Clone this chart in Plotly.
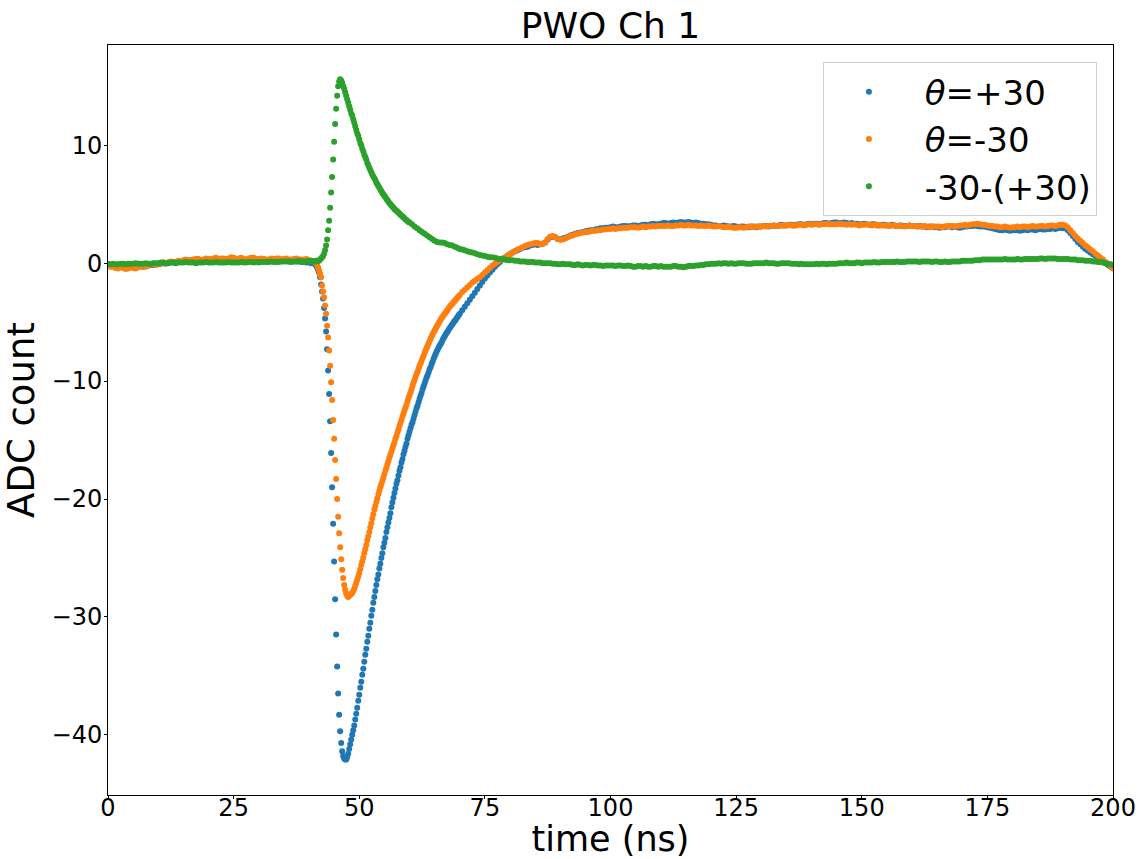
import numpy as np
import plotly.graph_objects as go

# Digitised waveforms, ADC counts vs time (ns).
# Each series is stored in segments: (start time, sample step, values).

# ---- theta = +30 ----
BLUE_BASE = [  # 0 .. 41 ns, 0.5 ns
    -0.15, -0.2, -0.25, -0.3, -0.35, -0.3, -0.35, -0.4, -0.4, -0.3,
    -0.35, -0.35, -0.3, -0.25, -0.3, -0.2, -0.2, -0.15, -0.15, -0.1,
    -0.1, -0.05, 0.0, 0.0, 0.05, 0.1, 0.05, 0.1, 0.15, 0.15,
    0.2, 0.2, 0.2, 0.25, 0.25, 0.3, 0.3, 0.25, 0.25, 0.3,
    0.3, 0.3, 0.35, 0.35, 0.3, 0.3, 0.35, 0.35, 0.35, 0.4,
    0.4, 0.35, 0.35, 0.3, 0.3, 0.25, 0.3, 0.35, 0.35, 0.3,
    0.3, 0.3, 0.25, 0.25, 0.2, 0.25, 0.25, 0.3, 0.3, 0.25,
    0.2, 0.2, 0.15, 0.2, 0.2, 0.15, 0.15, 0.1, 0.1, 0.05,
    0.05, 0.0, 0.0]
BLUE_EDGE = [  # 41.2 .. 48.0 ns, 0.2 ns
    -0.1, -0.2, -0.35, -0.55, -0.8, -1.2, -1.8, -2.4, -3.0, -3.8,
    -4.7, -5.8, -7.3, -9.1, -11.1, -13.4, -16.1, -19.0, -22.1, -25.3,
    -28.5, -31.5, -34.2, -36.5, -38.3, -39.7, -40.7, -41.4, -41.8, -42.0,
    -42.1, -42.1, -41.9, -41.6, -41.2]
BLUE_RISE = [  # 48.2 .. 70.0 ns, 0.2 ns
    -40.8, -40.4, -40.0, -39.6, -39.2, -38.7, -38.2, -37.7, -37.1, -36.6,
    -36.0, -35.5, -34.9, -34.4, -33.8, -33.2, -32.7, -32.1, -31.6, -31.0,
    -30.5, -29.9, -29.4, -28.8, -28.3, -27.8, -27.3, -26.8, -26.4, -25.9,
    -25.5, -25.0, -24.6, -24.1, -23.7, -23.3, -22.8, -22.4, -22.0, -21.6,
    -21.2, -20.7, -20.3, -19.9, -19.5, -19.1, -18.7, -18.4, -18.0, -17.6,
    -17.3, -16.9, -16.6, -16.2, -15.9, -15.6, -15.3, -14.9, -14.6, -14.3,
    -14.0, -13.7, -13.5, -13.2, -12.9, -12.6, -12.3, -12.1, -11.8, -11.5,
    -11.25, -11.0, -10.7, -10.45, -10.2, -9.95, -9.7, -9.5, -9.25, -9.0,
    -8.8, -8.55, -8.35, -8.1, -7.9, -7.7, -7.5, -7.35, -7.15, -7.0,
    -6.85, -6.7, -6.5, -6.35, -6.2, -6.05, -5.9, -5.8, -5.65, -5.5,
    -5.4, -5.25, -5.15, -5.0, -4.9, -4.8, -4.65, -4.55, -4.4, -4.3]
BLUE_TAIL = [  # 70.5 .. 80.0 ns, 0.5 ns
    -4.0, -3.7, -3.4, -3.1, -2.8, -2.5, -2.2, -1.9, -1.6, -1.3,
    -1.05, -0.8, -0.55, -0.3, -0.1, 0.1, 0.3, 0.45, 0.6, 0.75]
BLUE_PLATEAU = [  # 80.5 .. 190 ns, 0.5 ns
    0.9, 1.0, 1.1, 1.2, 1.3, 1.35, 1.4, 1.5, 1.55, 1.6,
    1.55, 1.6, 1.65, 1.75, 2.0, 2.2, 2.25, 2.2, 2.05, 2.0,
    2.1, 2.15, 2.25, 2.35, 2.4, 2.5, 2.55, 2.6, 2.65, 2.7,
    2.75, 2.8, 2.8, 2.85, 2.9, 2.95, 2.95, 3.0, 3.0, 3.05,
    3.1, 3.05, 3.05, 3.1, 3.15, 3.15, 3.1, 3.15, 3.2, 3.2,
    3.15, 3.2, 3.25, 3.25, 3.2, 3.3, 3.35, 3.3, 3.3, 3.35,
    3.4, 3.4, 3.35, 3.4, 3.45, 3.4, 3.45, 3.5, 3.45, 3.45,
    3.5, 3.45, 3.4, 3.45, 3.4, 3.35, 3.35, 3.3, 3.3, 3.25,
    3.2, 3.2, 3.15, 3.15, 3.2, 3.15, 3.1, 3.1, 3.15, 3.1,
    3.05, 3.1, 3.1, 3.05, 3.05, 3.1, 3.1, 3.05, 3.1, 3.1,
    3.15, 3.15, 3.1, 3.15, 3.2, 3.15, 3.2, 3.25, 3.2, 3.2,
    3.25, 3.25, 3.2, 3.25, 3.3, 3.3, 3.25, 3.3, 3.35, 3.3,
    3.35, 3.35, 3.3, 3.35, 3.4, 3.4, 3.35, 3.4, 3.45, 3.45,
    3.4, 3.4, 3.45, 3.4, 3.35, 3.4, 3.35, 3.35, 3.3, 3.3,
    3.35, 3.3, 3.25, 3.3, 3.3, 3.25, 3.2, 3.25, 3.25, 3.2,
    3.2, 3.25, 3.2, 3.15, 3.2, 3.2, 3.15, 3.15, 3.2, 3.15,
    3.15, 3.1, 3.15, 3.1, 3.1, 3.05, 3.1, 3.1, 3.05, 3.05,
    3.0, 3.05, 3.05, 3.1, 3.1, 3.05, 3.1, 3.05, 3.0, 3.05,
    3.1, 3.1, 3.15, 3.15, 3.2, 3.15, 3.1, 3.1, 3.1, 3.05,
    3.0, 2.95, 2.9, 2.85, 2.8, 2.8, 2.85, 2.8, 2.75, 2.8,
    2.8, 2.8, 2.75, 2.8, 2.85, 2.8, 2.85, 2.85, 2.8, 2.85,
    2.9, 2.85, 2.85, 2.9, 2.9, 2.95, 2.9, 2.95, 3.0, 2.95]
BLUE_END = [  # 190.5 .. 200 ns, 0.5 ns
    2.95, 2.8, 2.55, 2.3, 2.05, 1.8, 1.6, 1.4, 1.2, 1.05,
    0.9, 0.75, 0.6, 0.45, 0.3, 0.15, 0.0, -0.15, -0.3, -0.4]

# ---- theta = -30 ----
ORANGE_BASE = [  # 0 .. 41 ns, 0.5 ns
    -0.2, -0.3, -0.3, -0.4, -0.45, -0.35, -0.4, -0.5, -0.45, -0.35,
    -0.4, -0.45, -0.35, -0.3, -0.25, -0.3, -0.2, -0.1, -0.1, -0.15,
    -0.05, 0.0, 0.05, -0.05, 0.05, 0.15, 0.1, 0.1, 0.2, 0.15,
    0.25, 0.3, 0.25, 0.2, 0.3, 0.35, 0.35, 0.25, 0.3, 0.4,
    0.35, 0.3, 0.4, 0.45, 0.35, 0.4, 0.4, 0.35, 0.4, 0.5,
    0.45, 0.35, 0.4, 0.45, 0.35, 0.3, 0.4, 0.45, 0.45, 0.35,
    0.35, 0.4, 0.35, 0.3, 0.3, 0.4, 0.35, 0.4, 0.4, 0.3,
    0.35, 0.4, 0.3, 0.3, 0.35, 0.4, 0.3, 0.3, 0.3, 0.35,
    0.25, 0.2, 0.15]
ORANGE_EDGE = [  # 41.2 .. 48.0 ns, 0.2 ns
    0.1, 0.0, -0.15, -0.35, -0.6, -0.9, -1.2, -1.9, -2.4, -2.9,
    -3.6, -4.3, -5.3, -6.3, -7.4, -8.7, -10.1, -11.6, -13.3, -14.9,
    -16.7, -18.3, -20.0, -21.5, -22.9, -24.1, -25.1, -26.0, -26.7, -27.3,
    -27.7, -28.0, -28.2, -28.3, -28.2]
ORANGE_RISE = [  # 48.2 .. 70.0 ns, 0.2 ns
    -28.15, -28.05, -27.95, -27.8, -27.6, -27.35, -27.1, -26.85, -26.6, -26.3,
    -25.95, -25.6, -25.3, -24.95, -24.6, -24.25, -23.9, -23.5, -23.15, -22.8,
    -22.4, -22.05, -21.65, -21.3, -20.9, -20.6, -20.25, -19.95, -19.6, -19.3,
    -19.0, -18.75, -18.45, -18.2, -17.9, -17.6, -17.35, -17.05, -16.8, -16.5,
    -16.25, -16.0, -15.7, -15.45, -15.2, -14.9, -14.65, -14.35, -14.1, -13.8,
    -13.55, -13.3, -13.0, -12.75, -12.5, -12.25, -12.0, -11.7, -11.45, -11.2,
    -10.95, -10.7, -10.4, -10.15, -9.9, -9.65, -9.4, -9.2, -8.95, -8.7,
    -8.5, -8.3, -8.05, -7.85, -7.6, -7.4, -7.2, -7.0, -6.8, -6.6,
    -6.4, -6.2, -6.05, -5.85, -5.7, -5.55, -5.4, -5.25, -5.1, -4.95,
    -4.8, -4.65, -4.55, -4.4, -4.3, -4.2, -4.05, -3.95, -3.8, -3.7,
    -3.6, -3.5, -3.4, -3.3, -3.2, -3.1, -3.0, -2.9, -2.8, -2.7]
ORANGE_TAIL = [  # 70.5 .. 80.0 ns, 0.5 ns
    -2.45, -2.25, -2.05, -1.85, -1.65, -1.5, -1.35, -1.2, -1.0, -0.8,
    -0.6, -0.4, -0.2, -0.05, 0.1, 0.25, 0.4, 0.5, 0.65, 0.75]
ORANGE_PLATEAU = [  # 80.5 .. 190 ns, 0.5 ns
    0.9, 1.0, 1.15, 1.25, 1.35, 1.45, 1.55, 1.6, 1.65, 1.7,
    1.7, 1.6, 1.65, 1.75, 2.05, 2.25, 2.3, 2.2, 2.05, 2.0,
    2.0, 2.1, 2.2, 2.3, 2.35, 2.45, 2.5, 2.55, 2.6, 2.65,
    2.65, 2.7, 2.75, 2.75, 2.8, 2.8, 2.85, 2.85, 2.9, 2.9,
    2.95, 2.9, 2.95, 2.95, 3.0, 3.0, 3.0, 3.05, 3.05, 3.05,
    3.0, 3.05, 3.1, 3.05, 3.1, 3.1, 3.15, 3.1, 3.15, 3.15,
    3.15, 3.15, 3.2, 3.15, 3.15, 3.2, 3.2, 3.25, 3.2, 3.2,
    3.25, 3.2, 3.2, 3.2, 3.15, 3.2, 3.15, 3.15, 3.2, 3.15,
    3.1, 3.1, 3.15, 3.1, 3.05, 3.05, 3.1, 3.05, 3.0, 3.0,
    3.05, 3.05, 3.0, 3.05, 3.1, 3.1, 3.05, 3.1, 3.1, 3.1,
    3.15, 3.1, 3.15, 3.15, 3.2, 3.15, 3.15, 3.2, 3.2, 3.2,
    3.25, 3.2, 3.2, 3.2, 3.25, 3.25, 3.2, 3.25, 3.3, 3.25,
    3.3, 3.3, 3.25, 3.3, 3.3, 3.35, 3.3, 3.3, 3.3, 3.3,
    3.35, 3.3, 3.3, 3.25, 3.3, 3.25, 3.3, 3.25, 3.2, 3.25,
    3.25, 3.3, 3.25, 3.2, 3.25, 3.2, 3.25, 3.2, 3.2, 3.2,
    3.15, 3.2, 3.2, 3.15, 3.15, 3.15, 3.1, 3.15, 3.2, 3.15,
    3.15, 3.15, 3.1, 3.1, 3.15, 3.1, 3.05, 3.1, 3.1, 3.1,
    3.1, 3.05, 3.1, 3.15, 3.15, 3.15, 3.1, 3.15, 3.2, 3.2,
    3.25, 3.2, 3.25, 3.3, 3.3, 3.35, 3.3, 3.25, 3.25, 3.2,
    3.15, 3.15, 3.1, 3.1, 3.05, 3.05, 3.1, 3.05, 3.0, 3.05,
    3.05, 3.1, 3.05, 3.1, 3.1, 3.05, 3.1, 3.15, 3.1, 3.1,
    3.15, 3.15, 3.1, 3.15, 3.2, 3.2, 3.15, 3.2, 3.25, 3.25]
ORANGE_END = [  # 190.5 .. 200 ns, 0.5 ns
    3.2, 3.05, 2.8, 2.55, 2.3, 2.1, 1.9, 1.7, 1.5, 1.35,
    1.15, 1.0, 0.8, 0.65, 0.45, 0.3, 0.1, -0.05, -0.25, -0.45]

# ---- difference -30 - (+30) ----
GREEN_BASE = [  # 0 .. 41 ns, 0.5 ns
    -0.05, -0.1, -0.05, -0.1, -0.1, -0.05, -0.05, -0.1, -0.05, -0.05,
    -0.05, 0.0, -0.05, -0.05, -0.05, 0.0, -0.05, -0.05, 0.0, 0.0,
    0.0, 0.05, 0.05, 0.0, 0.0, 0.05, 0.05, 0.0, 0.05, 0.05,
    0.05, 0.1, 0.05, 0.05, 0.05, 0.0, 0.05, 0.05, 0.05, 0.1,
    0.05, 0.05, 0.05, 0.1, 0.05, 0.05, 0.05, 0.05, 0.1, 0.05,
    0.05, 0.05, 0.05, 0.1, 0.05, 0.05, 0.1, 0.1, 0.05, 0.1,
    0.05, 0.1, 0.1, 0.1, 0.1, 0.15, 0.1, 0.1, 0.1, 0.15,
    0.15, 0.15, 0.15, 0.1, 0.15, 0.15, 0.2, 0.15, 0.15, 0.15,
    0.2, 0.2, 0.15]
GREEN_PEAK = [  # 41.2 .. 60.0 ns, 0.2 ns
    0.15, 0.2, 0.2, 0.2, 0.2, 0.3, 0.4, 0.5, 0.6, 0.8,
    1.1, 1.5, 2.0, 2.8, 3.6, 4.7, 6.0, 7.3, 8.8, 10.3,
    11.8, 13.1, 14.2, 15.0, 15.4, 15.6, 15.5, 15.3, 15.0, 14.8,
    14.5, 14.2, 13.9, 13.6, 13.3, 13.0, 12.7, 12.5, 12.2, 11.9,
    11.6, 11.3, 11.0, 10.8, 10.5, 10.2, 10.0, 9.7, 9.5, 9.2,
    9.0, 8.8, 8.5, 8.3, 8.1, 7.9, 7.7, 7.5, 7.35, 7.2,
    7.05, 6.85, 6.7, 6.55, 6.4, 6.25, 6.1, 5.95, 5.85, 5.7,
    5.6, 5.45, 5.35, 5.2, 5.1, 5.0, 4.9, 4.8, 4.7, 4.6,
    4.5, 4.45, 4.35, 4.3, 4.2, 4.1, 4.05, 3.95, 3.9, 3.8,
    3.7, 3.65, 3.55, 3.5, 3.45]
GREEN_TAIL = [  # 60.5 .. 200 ns, 0.5 ns
    3.3, 3.1, 2.95, 2.8, 2.65, 2.5, 2.35, 2.2, 2.05, 1.9,
    1.8, 1.75, 1.75, 1.7, 1.6, 1.55, 1.5, 1.4, 1.3, 1.2,
    1.15, 1.1, 1.0, 0.95, 0.9, 0.85, 0.75, 0.7, 0.65, 0.6,
    0.55, 0.5, 0.5, 0.45, 0.4, 0.35, 0.35, 0.3, 0.25, 0.25,
    0.25, 0.2, 0.2, 0.15, 0.15, 0.15, 0.1, 0.1, 0.1, 0.05,
    0.05, 0.05, 0.0, 0.0, 0.0, 0.0, -0.05, -0.05, -0.1, -0.1,
    -0.05, -0.1, -0.1, -0.1, -0.15, -0.15, -0.1, -0.15, -0.2, -0.15,
    -0.15, -0.2, -0.15, -0.15, -0.2, -0.2, -0.25, -0.2, -0.2, -0.2,
    -0.2, -0.25, -0.2, -0.2, -0.25, -0.25, -0.2, -0.25, -0.3, -0.3,
    -0.25, -0.25, -0.3, -0.25, -0.3, -0.3, -0.25, -0.25, -0.3, -0.25,
    -0.3, -0.3, -0.3, -0.3, -0.25, -0.25, -0.3, -0.3, -0.35, -0.3,
    -0.25, -0.25, -0.25, -0.2, -0.2, -0.15, -0.15, -0.1, -0.1, -0.05,
    -0.05, -0.05, 0.0, -0.05, 0.0, 0.0, -0.05, 0.0, -0.05, -0.05,
    0.0, 0.0, 0.0, -0.05, -0.05, -0.05, 0.0, 0.0, 0.0, 0.0,
    0.0, 0.05, 0.0, 0.0, 0.0, -0.05, -0.05, 0.0, 0.0, 0.0,
    0.0, -0.05, -0.05, -0.05, -0.1, -0.05, -0.1, -0.1, -0.1, -0.1,
    -0.1, -0.05, -0.1, -0.05, -0.05, -0.1, -0.05, -0.05, -0.05, -0.05,
    0.0, 0.0, 0.0, 0.05, 0.0, 0.0, 0.0, 0.05, 0.05, 0.0,
    0.05, 0.05, 0.05, 0.05, 0.1, 0.05, 0.05, 0.1, 0.1, 0.1,
    0.1, 0.1, 0.1, 0.15, 0.1, 0.1, 0.1, 0.15, 0.15, 0.15,
    0.15, 0.15, 0.1, 0.15, 0.15, 0.15, 0.15, 0.1, 0.15, 0.15,
    0.1, 0.1, 0.15, 0.1, 0.1, 0.15, 0.15, 0.15, 0.15, 0.2,
    0.2, 0.2, 0.2, 0.2, 0.25, 0.25, 0.25, 0.3, 0.3, 0.3,
    0.3, 0.3, 0.3, 0.3, 0.3, 0.3, 0.35, 0.3, 0.3, 0.3,
    0.3, 0.35, 0.3, 0.3, 0.35, 0.35, 0.35, 0.35, 0.35, 0.35,
    0.4, 0.4, 0.35, 0.4, 0.4, 0.4, 0.4, 0.35, 0.35, 0.35,
    0.35, 0.35, 0.3, 0.3, 0.3, 0.25, 0.25, 0.25, 0.2, 0.2,
    0.2, 0.15, 0.15, 0.1, 0.1, 0.05, 0.0, -0.05, -0.1, -0.15]

NBSP = "\u00a0"
SERIES = [
    (NBSP + "<i>θ</i>=+30", "#1f77b4",
     [(0, 0.5, BLUE_BASE), (41.2, 0.2, BLUE_EDGE), (48.2, 0.2, BLUE_RISE),
      (70.5, 0.5, BLUE_TAIL), (80.5, 0.5, BLUE_PLATEAU), (190.5, 0.5, BLUE_END)]),
    (NBSP + "<i>θ</i>=-30", "#ff7f0e",
     [(0, 0.5, ORANGE_BASE), (41.2, 0.2, ORANGE_EDGE), (48.2, 0.2, ORANGE_RISE),
      (70.5, 0.5, ORANGE_TAIL), (80.5, 0.5, ORANGE_PLATEAU), (190.5, 0.5, ORANGE_END)]),
    (NBSP + "-30-(+30)", "#2ca02c",
     [(0, 0.5, GREEN_BASE), (41.2, 0.2, GREEN_PEAK), (60.5, 0.5, GREEN_TAIL)]),
]


def assemble(segments):
    t, v = [], []
    for start, step, vals in segments:
        t.extend(np.round(start + step * np.arange(len(vals)), 2))
        v.extend(vals)
    return t, v


FONT = "DejaVu Sans"
fig = go.Figure()
for i, (name, color, segs) in enumerate(SERIES):
    t, v = assemble(segs)
    fig.add_trace(go.Scatter(
        x=t, y=v, mode="markers", name=name, legendgroup=f"g{i}",
        marker=dict(color=color, size=6, line=dict(width=0)),
    ))

axis_common = dict(
    showline=True, mirror=True, linecolor="black", linewidth=1,
    ticks="outside", ticklen=3, tickcolor="black", tickwidth=1,
    showgrid=False, zeroline=False, automargin=False,
    tickfont=dict(family=FONT, size=24, color="black"),
)

fig.update_layout(
    width=1140, height=859,
    margin=dict(l=108, r=27, t=45, b=64),
    paper_bgcolor="white", plot_bgcolor="white",
    font=dict(family=FONT, color="black"),
    title=dict(text="PWO Ch 1", x=0.5, xref="paper", xanchor="center",
               y=1 - 25 / 859, yref="container", yanchor="middle",
               font=dict(family=FONT, size=36, color="black")),
    xaxis=dict(range=[0, 200], tickvals=list(range(0, 201, 25)),
               ticklabelstandoff=-12,
               title=dict(text="time (ns)", font=dict(family=FONT, size=35),
                          standoff=2),
               **axis_common),
    yaxis=dict(range=[-45.1, 18.5], tickvals=list(range(-40, 11, 10)),
               ticklabelstandoff=-3,
               title=dict(text="ADC count", font=dict(family=FONT, size=37),
                          standoff=12),
               **axis_common),
    legend=dict(x=0.984, xanchor="right", y=0.977, yanchor="top",
                bgcolor="rgba(255,255,255,0.8)", bordercolor="#d0d0d0",
                borderwidth=1, font=dict(family=FONT, size=34, color="black"),
                itemwidth=80, tracegroupgap=0, traceorder="grouped"),
    showlegend=True,
)

fig.write_html("out.html")
